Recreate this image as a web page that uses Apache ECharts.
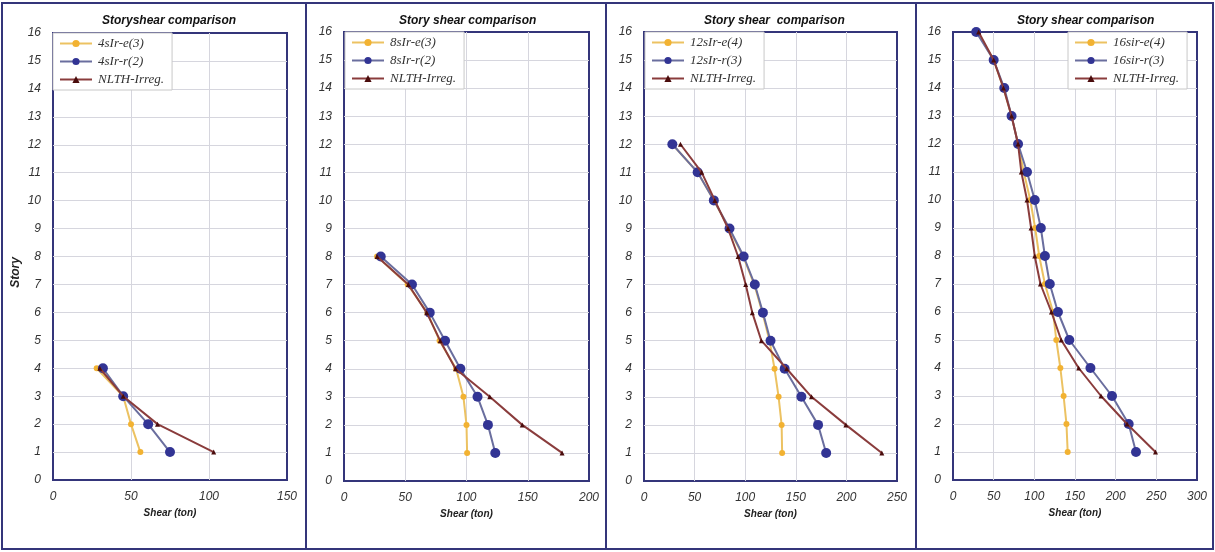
<!DOCTYPE html>
<html>
<head>
<meta charset="utf-8">
<script src="https://cdn.jsdelivr.net/npm/echarts@6/dist/echarts.min.js"></script>
<style>
  html, body { margin: 0; padding: 0; background: #fff; }
  #main { width: 1215px; height: 552px; }
</style>
</head>
<body>
<div id="main"></div>
<script>
  // story shear, index 0 = story 1
  var p1Names = ['4sIr-e(3)', '4sIr-r(2)', 'NLTH-Irreg.']
  var p1E = [56, 50, 45, 28]
  var p1R = [75, 61, 45, 32]
  var p1N = [103, 67, 45, 30]

  var p2Names = ['8sIr-e(3)', '8sIr-r(2)', 'NLTH-Irreg.']
  var p2E = [100.5, 100, 97.5, 91.5, 78, 68, 52, 27]
  var p2R = [123.5, 117.5, 109, 95, 82.5, 70, 55.5, 30]
  var p2N = [178, 145.5, 119, 91, 78.5, 67.5, 52.5, 27]

  var p3Names = ['12sIr-e(4)', '12sIr-r(3)', 'NLTH-Irreg.']
  var p3E = [136.5, 136, 133, 129, 124, 117, 109, 98, 84, 69, 53, 28]
  var p3R = [180, 172, 155.5, 139, 125, 117.5, 109.5, 98.5, 84.5, 69, 53, 28]
  var p3N = [235, 199.5, 165.5, 141, 116, 107, 100.5, 93, 83, 70, 57, 36]

  var p4Names = ['16sir-e(4)', '16sir-r(3)', 'NLTH-Irreg.']
  var p4E = [141, 139.5, 136, 132, 127, 123, 113, 106, 101, 95, 87, 80, 72, 62, 50, 30]
  var p4R = [225, 216, 195.5, 169, 143, 129, 119, 113, 108, 100.5, 91, 80, 72, 63, 50, 28.5]
  var p4N = [249, 214, 182, 154.5, 133, 121, 107.5, 100.5, 96, 91, 84, 80, 72, 62, 50, 31.5]

  var titles = ['Storyshear comparison', 'Story shear comparison', 'Story shear  comparison', 'Story shear comparison']
  var xMax = [150, 200, 250, 300]
  var storyMax = 16

  var panels = [
    { names: p1Names, data: [p1E, p1R, p1N], grid: { left: 53, right: 928, top: 33, bottom: 72 }, legend: { left: 53, top: 33 }, title: 97 },
    { names: p2Names, data: [p2E, p2R, p2N], grid: { left: 344, right: 626, top: 32, bottom: 71 }, legend: { left: 345, top: 32 }, title: 394 },
    { names: p3Names, data: [p3E, p3R, p3N], grid: { left: 644, right: 318, top: 32, bottom: 71 }, legend: { left: 645, top: 32 }, title: 699 },
    { names: p4Names, data: [p4E, p4R, p4N], grid: { left: 953, right: 18, top: 32, bottom: 72 }, legend: { left: 1068, top: 32 }, title: 1012 }
  ]

  var navy = '#34357a'
  var styles = [
    { color: '#f2b232', line: '#ecc262', symbol: 'circle', size: 6 },
    { color: '#323494', line: '#6a6e9e', symbol: 'circle', size: 10 },
    { color: '#4a0c0c', line: '#8a3c3c', symbol: 'triangle', size: 5 }
  ]

  function pairs(arr) {
    return arr.map(function (v, i) { return [v, i + 1] })
  }

  var option = {
    animation: false,
    backgroundColor: '#fff',
    title: [], grid: [], xAxis: [], yAxis: [], legend: [], series: [],
    graphic: [
      { type: 'rect', shape: { x: 2, y: 3, width: 1211, height: 546 }, style: { fill: 'none', stroke: navy, lineWidth: 2 }, z: 100 },
      { type: 'line', shape: { x1: 306, y1: 3, x2: 306, y2: 549 }, style: { stroke: navy, lineWidth: 2 }, z: 100 },
      { type: 'line', shape: { x1: 606, y1: 3, x2: 606, y2: 549 }, style: { stroke: navy, lineWidth: 2 }, z: 100 },
      { type: 'line', shape: { x1: 916, y1: 3, x2: 916, y2: 549 }, style: { stroke: navy, lineWidth: 2 }, z: 100 }
    ]
  }

  panels.forEach(function (p, k) {
    option.title.push({
      text: titles[k], left: p.title, top: 10,
      textStyle: { fontFamily: 'Liberation Sans', fontSize: 12, fontWeight: 'bold', fontStyle: 'italic', color: '#111' }
    })
    option.grid.push(Object.assign({ show: true, borderColor: navy, borderWidth: 2, backgroundColor: '#fff' }, p.grid))
    option.xAxis.push({
      type: 'value', gridIndex: k, min: 0, max: xMax[k], interval: 50,
      name: 'Shear (ton)', nameLocation: 'middle', nameGap: 23,
      nameTextStyle: { fontFamily: 'Liberation Sans', fontSize: 10, fontWeight: 'bold', fontStyle: 'italic', color: '#222' },
      axisLine: { show: false }, axisTick: { show: false },
      axisLabel: { margin: 11, fontFamily: 'Liberation Sans', fontSize: 12, fontStyle: 'italic', color: '#333' },
      splitLine: { show: true, showMinLine: false, showMaxLine: false, lineStyle: { color: '#d6d6de', width: 1 } }
    })
    option.yAxis.push({
      type: 'value', gridIndex: k, min: 0, max: storyMax, interval: 1,
      name: k === 0 ? 'Story' : '', nameLocation: 'middle', nameGap: 31,
      nameTextStyle: { fontFamily: 'Liberation Sans', fontSize: 12, fontWeight: 'bold', fontStyle: 'italic', color: '#222', padding: [0, 32, 0, 0] },
      axisLine: { show: false }, axisTick: { show: false },
      axisLabel: { margin: 12, fontFamily: 'Liberation Sans', fontSize: 12, fontStyle: 'italic', color: '#333' },
      splitLine: { show: true, showMinLine: false, showMaxLine: false, lineStyle: { color: '#d6d6de', width: 1 } }
    })
    option.legend.push(Object.assign({
      orient: 'vertical', data: p.names.slice(),
      itemWidth: 32, itemHeight: 9, itemGap: 5,
      padding: [4, 8, 4, 6],
      backgroundColor: '#fff', borderColor: '#c8c8c8', borderWidth: 1,
      selectedMode: false, z: 50,
      textStyle: { fontFamily: 'Liberation Serif', fontSize: 13, fontStyle: 'italic', color: '#333', padding: [0, 0, 0, 1] }
    }, p.legend))
    p.data.forEach(function (arr, j) {
      var s = styles[j]
      option.series.push({
        type: 'line', name: p.names[j], xAxisIndex: k, yAxisIndex: k,
        data: pairs(arr),
        symbol: s.symbol, symbolSize: s.size,
        itemStyle: { color: s.color },
        lineStyle: { color: s.line, width: 2 },
        z: 10 + j
      })
    })
  })

  var chart = echarts.init(document.getElementById('main'))
  chart.setOption(option)
  window.addEventListener('resize', chart.resize)
</script>
</body>
</html>
